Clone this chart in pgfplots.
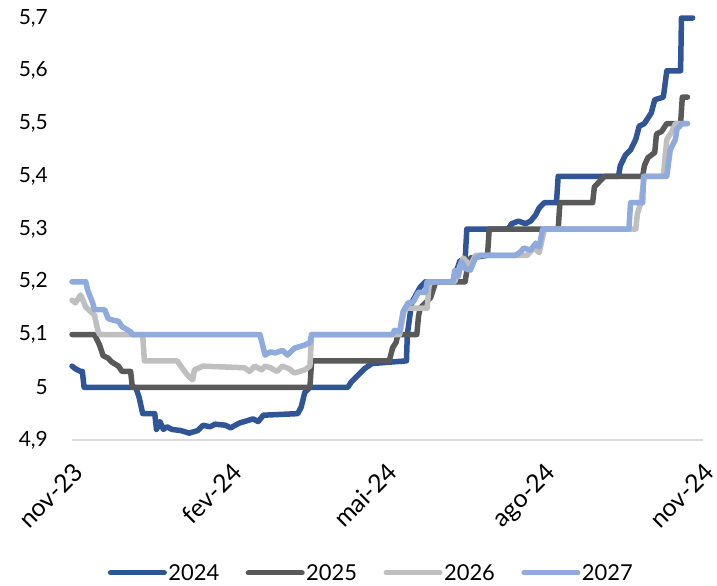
\documentclass[border=0pt]{standalone}
\usepackage{pgfplots}
\pgfplotsset{compat=1.18}
\usepackage{fontspec}
\setmainfont{Lato}
\definecolor{cA}{HTML}{2F5597}
\definecolor{cB}{HTML}{595959}
\definecolor{cC}{HTML}{BFBFBF}
\definecolor{cD}{HTML}{8FAADC}
\definecolor{cAx}{HTML}{D9D9D9}
\newcommand\xl{\fontsize{21}{25}\selectfont}
\newcommand\xll{\fontsize{25}{29}\selectfont}
\begin{document}
\begin{tikzpicture}
\useasboundingbox (0,0) rectangle (717bp,586bp);
\begin{axis}[
  at={(72bp,146bp)}, anchor=south west,
  scale only axis, width=631bp, height=422bp,
  xmin=0, xmax=366, ymin=4.9, ymax=5.7,
  clip=false,
  axis lines*=left,
  y axis line style={draw=none},
  x axis line style={draw=cAx, line width=1.2bp, -},
  major tick length=0pt,
  xtick={0,92,182,274,366},
  xticklabels={{\xll nov-23},{\xll fev-24},{\xll mai-24},{\xll ago-24},{\xll nov-24}},
  ytick={4.9,5.0,5.1,5.2,5.3,5.4,5.5,5.6,5.7},
  yticklabels={{4,9},5,{5,1},{5,2},{5,3},{5,4},{5,5},{5,6},{5,7}},
  yticklabel style={font=\xl, text=black, anchor=east, inner sep=0pt, xshift=-24bp},
  xticklabel style={text=black, xshift=0bp, yshift=-21bp, rotate=45, anchor=north east, inner sep=0pt},
  legend columns=4,
  legend style={at={(0.474,-0.315)}, anchor=center, draw=none, fill=none,
    font=\fontsize{22}{26}\selectfont,
    nodes={inner sep=1.5bp},
    /tikz/every even column/.append style={column sep=25bp}},
  legend image code/.code={\draw[#1, line width=5bp, line cap=round] (0bp,0bp) -- (54bp,0bp);},
  every axis plot/.append style={line width=5.5bp, line join=round, line cap=round},
]
% 2024
\addplot[cA] coordinates {
(0,5.04)(2,5.035)(5,5.03)(6,5.03)(7,5.0)(37,5.0)(39,4.98)(41,4.95)(48,4.95)(49,4.92)
(51,4.935)(53,4.92)(55,4.925)(58,4.92)(63,4.918)(68,4.913)(73,4.918)(76,4.928)(80,4.925)
(83,4.93)(89,4.928)(92,4.923)(97,4.932)(105,4.94)(108,4.935)(111,4.947)(131,4.95)
(133,4.963)(135,4.99)(138,5.0)(160,5.0)(162,5.01)(166,5.023)(170,5.036)(174,5.045)
(194,5.05)(194.5,5.1)(197,5.16)(202,5.19)(205,5.2)(221,5.2)(223,5.22)(225,5.24)(228,5.24)
(229,5.3)(253,5.3)(255,5.31)(259,5.315)(263,5.31)(266,5.315)(269,5.327)(271,5.34)
(274,5.35)(281,5.35)(282,5.4)(317,5.4)(318,5.42)(321,5.44)(324,5.45)(327,5.47)(329,5.495)
(332,5.5)(334,5.51)(336,5.52)(338,5.545)(343,5.55)(345,5.6)(353,5.6)(353.5,5.7)(360,5.7)
};
\addlegendentry{2024}
% 2025
\addplot[cB] coordinates {
(0,5.1)(13,5.1)(16,5.08)(18,5.06)(21,5.055)(23,5.048)(27,5.04)(29,5.03)(34,5.03)(35,5.0)
(138,5.0)(139,5.05)(184,5.05)(186,5.075)(188,5.085)(189,5.1)(200,5.1)(201,5.135)(202,5.15)
(208,5.17)(211,5.2)(228,5.2)(229,5.22)(231,5.245)(241,5.25)(242,5.3)(282,5.3)(283,5.35)
(302,5.35)(303,5.38)(306,5.39)(309,5.4)(331,5.4)(332,5.42)(334,5.435)(338,5.445)(339,5.48)
(342,5.485)(345,5.5)(353,5.5)(354,5.55)(357,5.55)
};
\addlegendentry{2025}
% 2026
\addplot[cC] coordinates {
(0,5.165)(2,5.16)(5,5.175)(8,5.152)(10,5.146)(13,5.137)(15,5.108)(16,5.1)(41,5.1)(42,5.05)
(61,5.05)(64,5.036)(67,5.023)(70,5.014)(71,5.033)(76,5.04)(100,5.037)(103,5.03)(106,5.04)
(110,5.033)(112,5.04)(115,5.037)(119,5.03)(122,5.04)(126,5.035)(129,5.027)(135,5.033)
(138,5.04)(139,5.1)(190,5.1)(193,5.15)(206,5.15)(207,5.19)(208,5.2)(222,5.2)(225,5.23)
(227,5.245)(231,5.23)(234,5.25)(264,5.25)(268,5.265)(271,5.255)(274,5.3)(327,5.3)(328,5.33)
(330,5.35)(332,5.4)(343,5.4)(345,5.47)(348,5.485)(350,5.5)(357,5.5)
};
\addlegendentry{2026}
% 2027
\addplot[cD] coordinates {
(0,5.2)(8,5.2)(9,5.185)(12,5.16)(13,5.147)(19,5.147)(21,5.13)(24,5.127)(27,5.125)(29,5.115)
(34,5.105)(35,5.1)(109,5.1)(112,5.061)(115,5.067)(118,5.065)(122,5.07)(125,5.061)(129,5.074)
(135,5.08)(138,5.085)(139,5.1)(186,5.1)(187,5.108)(190,5.105)(192,5.143)(195,5.16)(198,5.162)
(201,5.18)(205,5.18)(206,5.2)(221,5.2)(222,5.222)(224,5.21)(226,5.238)(228,5.225)(231,5.222)
(234,5.245)(237,5.25)(257,5.25)(260,5.256)(262,5.264)(266,5.26)(269,5.273)(271,5.266)
(273,5.3)(323,5.3)(324,5.35)(331,5.35)(331.5,5.4)(345,5.4)(347,5.45)(350,5.47)(351,5.49)
(354,5.5)(357,5.5)
};
\addlegendentry{2027}
\end{axis}
\end{tikzpicture}
\end{document}
